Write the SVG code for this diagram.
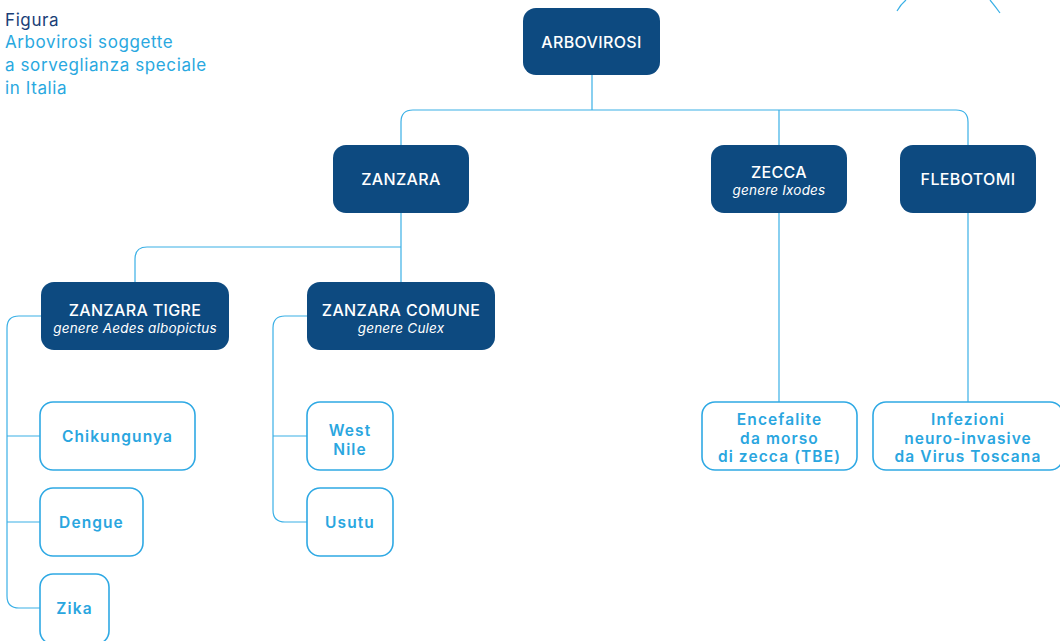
<svg xmlns="http://www.w3.org/2000/svg" width="1060" height="641" viewBox="0 0 1060 641">
<style>
.dk{fill:#0d4a80;}
.lt{fill:#fff;stroke:#2fa9e4;stroke-width:1.6;}
.ln{fill:none;stroke:#3ab0e6;stroke-width:1.2;}
.wt{font-family:Inter,"Liberation Sans",sans-serif;font-size:16px;font-weight:500;letter-spacing:0.35px;fill:#fff;text-anchor:middle;}
.wi{font-family:Inter,"Liberation Sans",sans-serif;font-size:13.5px;font-style:italic;letter-spacing:0.2px;fill:#fff;text-anchor:middle;}
.bt{font-family:Inter,"Liberation Sans",sans-serif;font-size:15.5px;font-weight:600;letter-spacing:1.1px;fill:#2aa6df;text-anchor:middle;}
.tt{font-family:Inter,"Liberation Sans",sans-serif;font-size:17px;letter-spacing:0.6px;}
</style>
<rect width="1060" height="641" fill="#fff"/>
<g id="title">
<text class="tt" x="5" y="26" fill="#1b3f78">Figura</text>
<text class="tt" x="5" fill="#29a8e0"><tspan x="5" y="48">Arbovirosi soggette</tspan><tspan x="5" y="71">a sorveglianza speciale</tspan><tspan x="5" y="94">in Italia</tspan></text>
</g>
<g id="deco">
<path class="ln" d="M897,11 Q901,4 906,0"/>
<path class="ln" d="M990,0 Q995,6 1000,13"/>
</g>
<g id="connectors">
<path class="ln" d="M592,75 V110"/>
<path class="ln" d="M401,145 V122 Q401,110 413,110 H956 Q968,110 968,122 V145"/>
<path class="ln" d="M779,110 V145"/>
<path class="ln" d="M401,213 V282"/>
<path class="ln" d="M401,247 H147 Q135,247 135,259 V282"/>
<path class="ln" d="M41,316 H19 Q7,316 7,328 V596 Q7,608 19,608 H40"/>
<path class="ln" d="M7,436 H40"/>
<path class="ln" d="M7,522 H40"/>
<path class="ln" d="M307,316 H285 Q273,316 273,328 V510 Q273,522 285,522 H307"/>
<path class="ln" d="M273,436 H307"/>
<path class="ln" d="M779,213 V402"/>
<path class="ln" d="M968,213 V402"/>
</g>
<g id="arbovirosi"><rect class="dk" x="523" y="8" width="137" height="67" rx="13"/><text class="wt" x="591.5" y="48">ARBOVIROSI</text></g>
<g id="zanzara"><rect class="dk" x="333" y="145" width="136" height="68" rx="13"/><text class="wt" x="401" y="185">ZANZARA</text></g>
<g id="zecca"><rect class="dk" x="711" y="145" width="136" height="68" rx="13"/><text class="wt" x="779" y="178">ZECCA</text><text class="wi" x="779" y="195">genere Ixodes</text></g>
<g id="flebotomi"><rect class="dk" x="900" y="145" width="136" height="68" rx="13"/><text class="wt" x="968" y="185">FLEBOTOMI</text></g>
<g id="zanzara-tigre"><rect class="dk" x="41" y="282" width="188" height="68" rx="13"/><text class="wt" x="135" y="315.5">ZANZARA TIGRE</text><text class="wi" x="135" y="333">genere Aedes albopictus</text></g>
<g id="zanzara-comune"><rect class="dk" x="307" y="282" width="188" height="68" rx="13"/><text class="wt" x="401" y="315.5">ZANZARA COMUNE</text><text class="wi" x="401" y="333">genere Culex</text></g>
<g id="chikungunya"><rect class="lt" x="40" y="402" width="155" height="68" rx="13"/><text class="bt" x="117.5" y="442">Chikungunya</text></g>
<g id="dengue"><rect class="lt" x="40" y="488" width="103" height="68" rx="13"/><text class="bt" x="91.5" y="528">Dengue</text></g>
<g id="zika"><rect class="lt" x="40" y="574" width="69" height="70" rx="13"/><text class="bt" x="74.5" y="614">Zika</text></g>
<g id="west-nile"><rect class="lt" x="307" y="402" width="86" height="68" rx="13"/><text class="bt"><tspan x="350" y="436">West</tspan><tspan x="350" y="454.8">Nile</tspan></text></g>
<g id="usutu"><rect class="lt" x="307" y="488" width="86" height="68" rx="13"/><text class="bt" x="350" y="528">Usutu</text></g>
<g id="tbe"><rect class="lt" x="702" y="402" width="155" height="68" rx="13"/><text class="bt"><tspan x="779.5" y="424.7">Encefalite</tspan><tspan x="779.5" y="443.5">da morso</tspan><tspan x="779.5" y="462.3">di zecca (TBE)</tspan></text></g>
<g id="toscana"><rect class="lt" x="873" y="402" width="190" height="68" rx="13"/><text class="bt"><tspan x="968" y="424.7">Infezioni</tspan><tspan x="968" y="443.5">neuro-invasive</tspan><tspan x="968" y="462.3">da Virus Toscana</tspan></text></g>
</svg>
